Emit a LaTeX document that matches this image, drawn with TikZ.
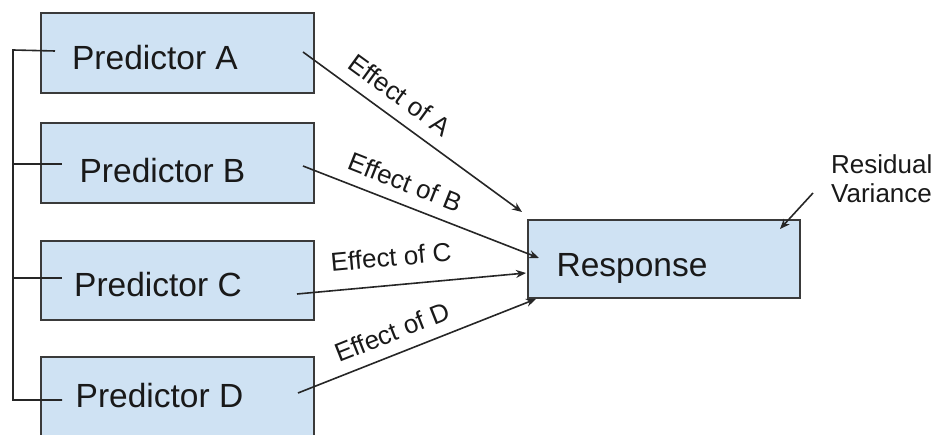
\documentclass[tikz,border=0pt]{standalone}
\usepackage{fontspec}
\setmainfont{Liberation Sans}
\usetikzlibrary{arrows.meta}
\definecolor{boxfill}{HTML}{CFE2F3}
\definecolor{boxdraw}{HTML}{3A3A3A}
\begin{document}
\begin{tikzpicture}[x=1pt,y=-1pt,
  pbox/.style={draw=boxdraw, fill=boxfill, line width=1.8pt, rectangle, inner sep=0pt, anchor=north west},
  bigtext/.style={font=\fontsize{33.5}{40}\selectfont, anchor=base, inner sep=0pt, text=black!90},
  smalltext/.style={font=\fontsize{26}{29}\selectfont, inner sep=0pt, text=black!90},
  conn/.style={line width=1.6pt, draw=black!85},
  arr/.style={conn, -{Stealth[length=10pt,width=8pt]}},
]
\useasboundingbox (0,0) rectangle (938,435);
\clip (0,0) rectangle (938,435);

% boxes
\node[pbox, minimum width=273pt, minimum height=80pt] (A) at (40,12) {};
\node[pbox, minimum width=273pt, minimum height=80pt] (B) at (40,122) {};
\node[pbox, minimum width=273pt, minimum height=79pt] (C) at (40,240) {};
\node[pbox, minimum width=273pt, minimum height=82pt] (D) at (40,356) {};
\node[pbox, minimum width=272pt, minimum height=78pt] (R) at (527,219) {};

% box texts
\node[bigtext] (tA) at (155,70) {Predictor A};
\node[bigtext] (tB) at (162.5,183) {Predictor B};
\node[bigtext] (tC) at (158,297) {Predictor C};
\node[bigtext] (tD) at (159.5,408) {Predictor D};
\node[bigtext] (tR) at (632,277) {Response};

% bracket
\coordinate (bTop) at (13,50);
\coordinate (bB) at (13,164);
\coordinate (bC) at (13,278);
\coordinate (bBot) at (13,400);
\coordinate (iA) at (55,51);
\coordinate (iB) at (62,164);
\coordinate (iC) at (62,278);
\coordinate (iD) at (62,400);
\draw[conn] (iA) -- (bTop) -- (bBot) -- (iD);
\draw[conn] (bB) -- (iB);
\draw[conn] (bC) -- (iC);

% effect arrows
\coordinate (sA) at (303,52);
\coordinate (eA) at (522,212);
\coordinate (sB) at (303,166);
\coordinate (eB) at (539,258);
\coordinate (sC) at (297,294);
\coordinate (eC) at (526,273);
\coordinate (sD) at (298,393);
\coordinate (eD) at (536,299);
\draw[arr] (sA) -- (eA);
\draw[arr] (sB) -- (eB);
\draw[arr] (sC) -- (eC);
\draw[arr] (sD) -- (eD);

\node[smalltext, rotate=-36] (lA) at (400,95) {Effect of A};
\node[smalltext, rotate=-21.5] (lB) at (405,182) {Effect of B};
\node[smalltext, rotate=5.3] (lC) at (391,257) {Effect of C};
\node[smalltext, rotate=21.6] (lD) at (392,332) {Effect of D};

% residual
\node[smalltext, align=left, anchor=north west] (res) at (831,154) {Residual\\Variance};
\coordinate (rS) at (813,193);
\coordinate (rE) at (780,229);
\draw[arr] (rS) -- (rE);
\end{tikzpicture}
\end{document}
